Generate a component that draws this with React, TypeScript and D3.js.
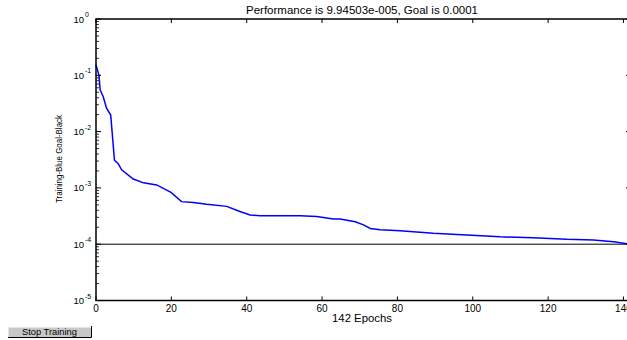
import React from "react";
import * as d3 from "d3";

const epochs = [0, 0.8, 1.1, 1.9, 2.8, 3.9, 4.9, 5.9, 6.8, 9.9, 12.6, 16.1, 19.9, 22.7, 25.8, 29.4, 34.7, 38.2, 40.9, 43.5, 54.2, 58.6, 63, 64.8, 68.8, 71, 72.8, 75.4, 80.7, 89.5, 98.4, 107.3, 116, 125, 132, 137.4, 142];
const performance = [0.152, 0.1, 0.055, 0.042, 0.026, 0.0197, 0.0031, 0.0027, 0.0021, 0.00144, 0.00123, 0.00113, 0.00083, 0.00057, 0.00055, 0.00051, 0.00047, 0.00038, 0.00033, 0.00032, 0.00032, 0.00031, 0.00028, 0.00028, 0.00025, 0.00022, 0.00019, 0.00018, 0.000174, 0.000156, 0.000146, 0.000135, 0.00013, 0.000122, 0.000119, 0.000111, 0.0000995];
const goal = 0.0001;
const xTicks = [0, 20, 40, 60, 80, 100, 120, 140];
const yExponents = [0, -1, -2, -3, -4, -5];
const titleText = "Performance is 9.94503e-005, Goal is 0.0001";
const xLabel = "142 Epochs";
const yLabel = "Training-Blue  Goal-Black";
const buttonLabel = "Stop Training";

const W = 627, H = 340;
const left = 96, right = 631, top = 19, bottom = 300.5;
const font = "Liberation Sans, Arial, sans-serif";

export default function App() {
  const x = d3.scaleLinear().domain([0, 142]).range([left, right]);
  const y = d3.scaleLog().domain([1e-5, 1]).range([bottom, top]);
  const line = d3.line<number>().x((_, i) => x(epochs[i])).y((d) => y(d));
  const minor: number[] = [];
  for (let e = -5; e < 0; e++) for (let m = 2; m <= 9; m++) minor.push(m * Math.pow(10, e));

  return (
    <svg width={W} height={H} style={{ position: "absolute", left: 0, top: 0, background: "#fff" }} fontFamily={font}>
      <rect x={0} y={0} width={W} height={H} fill="#fff" />
      <text x={362} y={14} textAnchor="middle" fontSize={10.5} textLength={232} lengthAdjust="spacingAndGlyphs">{titleText}</text>
      {/* goal line */}
      <line x1={left} x2={right} y1={y(goal)} y2={y(goal)} stroke="#000" strokeWidth={1} />
      {/* training line */}
      <path d={line(performance) || ""} fill="none" stroke="#0000ff" strokeWidth={1.5} />
      {/* ticks */}
      {xTicks.map((t) => (
        <g key={"x" + t}>
          <line x1={x(t)} x2={x(t)} y1={bottom} y2={bottom - 4} stroke="#000" />
          <line x1={x(t)} x2={x(t)} y1={top} y2={top + 4} stroke="#000" />
          <text x={x(t)} y={bottom + 11} textAnchor="middle" fontSize={10}>{t}</text>
        </g>
      ))}
      {yExponents.map((e) => (
        <g key={"y" + e}>
          <line x1={left} x2={left + 5} y1={y(Math.pow(10, e))} y2={y(Math.pow(10, e))} stroke="#000" />
          <line x1={right} x2={right - 5} y1={y(Math.pow(10, e))} y2={y(Math.pow(10, e))} stroke="#000" />
          <text x={84} y={y(Math.pow(10, e)) + 3.5} textAnchor="end" fontSize={9.5}>10</text>
          <text x={85} y={y(Math.pow(10, e)) - 2} textAnchor="start" fontSize={7}>{e}</text>
        </g>
      ))}
      {minor.map((v, i) => (
        <g key={"m" + i}>
          <line x1={left} x2={left + 3} y1={y(v)} y2={y(v)} stroke="#000" strokeWidth={0.8} />
          <line x1={right} x2={right - 3} y1={y(v)} y2={y(v)} stroke="#000" strokeWidth={0.8} />
        </g>
      ))}
      {/* axes box */}
      <rect x={left} y={top} width={right - left} height={bottom - top} fill="none" stroke="#000" strokeWidth={1.5} />
      <text x={362} y={322} textAnchor="middle" fontSize={10.5} textLength={60} lengthAdjust="spacingAndGlyphs">{xLabel}</text>
      <text transform={`translate(62,159) rotate(-90)`} textAnchor="middle" fontSize={9} textLength={88} lengthAdjust="spacingAndGlyphs">{yLabel}</text>
      {/* button */}
      <rect x={8} y={327} width={83} height={10} fill="#c8c8c8" />
      <path d="M8,337 L8,327 L91,327" fill="none" stroke="#fff" strokeWidth={1} />
      <path d="M8,337.5 L91.5,337.5 L91.5,326" fill="none" stroke="#000" strokeWidth={1} />
      <text x={49.5} y={335} textAnchor="middle" fontSize={8.5} textLength={55} lengthAdjust="spacingAndGlyphs">{buttonLabel}</text>
    </svg>
  );
}
